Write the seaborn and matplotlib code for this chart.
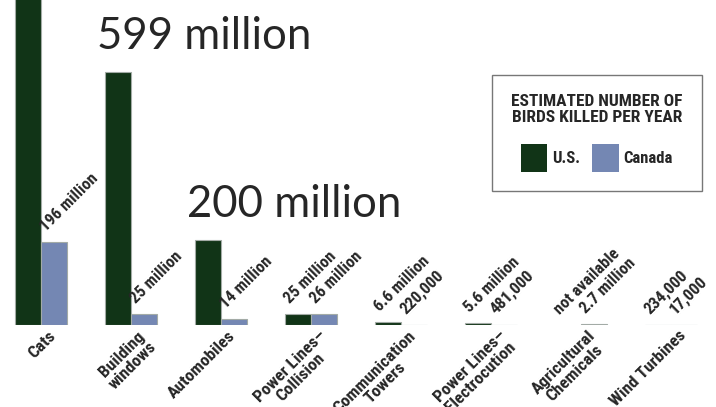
import numpy as np
import pandas as pd
import matplotlib
matplotlib.use("Agg")
import matplotlib.pyplot as plt
import matplotlib.transforms as mtransforms
import seaborn as sns

# Estimated birds killed per year, in millions
categories = ["Cats", "Building\nwindows", "Automobiles", "Power Lines–\nCollision",
              "Communication\nTowers", "Power Lines–\nElectrocution",
              "Agricultural\nChemicals", "Wind Turbines"]
us_values = [2400, 599, 200, 25, 6.6, 5.6, np.nan, 0.234]
canada_values = [196, 25, 14, 26, 0.22, 0.481, 2.7, 0.017]
us_labels = ["", "", "", "25 million", "6.6 million", "5.6 million", "not available", "234,000"]
canada_labels = ["196 million", "25 million", "14 million", "26 million", "220,000",
                 "481,000", "2.7 million", "17,000"]
big_labels = {1: "599 million", 2: "200 million"}
countries = ["U.S."] + ["Canada"]

US_GREEN = "#0b3a13"
CA_BLUE = "#6983be"
NARROW = ["Roboto Condensed", "DejaVu Sans"]

df = pd.DataFrame({
    "category": categories * 2,
    "country": ["U.S."] * len(categories) + ["Canada"] * len(categories),
    "value": us_values + canada_values,
})
missing = df["value"].isna()
df["value"] = df["value"].fillna(0)

sns.set_style("white")
fig = plt.figure(figsize=(7.16, 4.07), dpi=100)
ax = fig.add_axes([0, 82 / 407, 1, 325 / 407])

sns.barplot(data=df, x="category", y="value", hue="country", hue_order=countries,
            order=categories, palette=[US_GREEN, CA_BLUE], width=0.58, gap=0,
            edgecolor="#a3aba6", linewidth=0.8, ax=ax, errorbar=None)

ax.set_ylim(0, 769)
ax.set_xlim(-0.456, 7.5)
ax.set_xlabel("")
ax.set_ylabel("")
ax.set_yticks([])
sns.despine(ax=ax, left=True, bottom=True)
ax.tick_params(axis="x", length=0, pad=0)

# hide the missing bar (no U.S. figure for agricultural chemicals)
us_bars, ca_bars = ax.containers[0], ax.containers[1]
for i, bar in enumerate(us_bars):
    if missing.iloc[i]:
        bar.set_visible(False)

# rotated value labels
for bars, labels in [(us_bars, us_labels), (ca_bars, canada_labels)]:
    for bar, lab in zip(bars, labels):
        if not lab:
            continue
        ax.annotate(lab, xy=(bar.get_x(), bar.get_height()), xytext=(7, 8),
                    textcoords="offset pixels", rotation=45, rotation_mode="anchor",
                    ha="left", va="bottom", fontsize=12, fontweight="bold",
                    family=NARROW, annotation_clip=False)

for i, lab in big_labels.items():
    bar = us_bars[i]
    ax.annotate(lab, xy=(bar.get_x(), bar.get_height()), xytext=(-8, 23),
                textcoords="offset pixels", ha="left", va="baseline",
                fontsize=31.5, family=["Lato", "DejaVu Sans"])

# category labels
ax.set_xticks(range(len(categories)))
ax.set_xticklabels(categories, rotation=45, ha="right", va="top",
                   rotation_mode="anchor", fontsize=12.5, fontweight="bold",
                   family=NARROW, multialignment="center", linespacing=1.0)
shift = mtransforms.ScaledTranslation(7 / 100, -3 / 100, fig.dpi_scale_trans)
for t in ax.get_xticklabels():
    t.set_transform(t.get_transform() + shift)

sns.move_legend(ax, "upper left", bbox_to_anchor=(492 / 716, 1 - 75 / 407),
                bbox_transform=fig.transFigure, ncol=2, borderaxespad=0,
                title="ESTIMATED NUMBER OF\nBIRDS KILLED PER YEAR",
                frameon=True, fancybox=False, handlelength=1.6, handleheight=2.2,
                handletextpad=0.3, columnspacing=0.7, borderpad=1.15, labelspacing=1.1,
                prop={"family": NARROW, "weight": "bold", "size": 12},
                title_fontproperties={"family": NARROW, "weight": "bold", "size": 12.5})
leg = ax.get_legend()
leg.get_frame().set_edgecolor("#555555")
leg.get_frame().set_linewidth(1.0)
leg.get_title().set_multialignment("center")
leg.get_title().set_linespacing(1.1)
for h in leg.legend_handles:
    h.set_edgecolor("none")

fig.savefig("out.png", dpi=100)
